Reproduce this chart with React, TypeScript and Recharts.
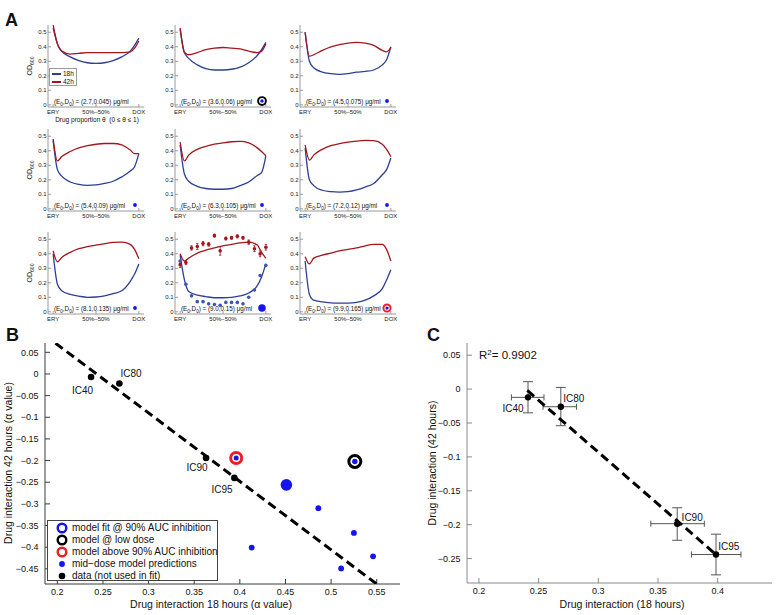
import React from 'react'
import { ComposedChart, ErrorBar, Line, Scatter, XAxis, YAxis } from 'recharts'

const FONT = '"Liberation Sans", Arial, Helvetica, sans-serif'
const LINE_BLUE = '#2c3f94'
const LINE_RED = '#a4161d'
const DOT_BLUE = '#1414ee'
const RING_RED = '#ee1c24'

// ---------- panel A: OD600 across drug proportions ----------
const thetas = [0, 0.05, 0.1, 0.2, 0.3, 0.4, 0.5, 0.6, 0.7, 0.8, 0.9, 0.95, 1]
const thetaTicks = [0, 0.5, 1]
const thetaTickLabels = ['ERY', '50%–50%', 'DOX']
const odTicks = [0, 0.1, 0.2, 0.3, 0.4, 0.5]
const doseLabels = ['2.7,0.045', '3.6,0.06', '4.5,0.075', '5.4,0.09', '6.3,0.105', '7.2,0.12', '8.1,0.135', '9.0,0.15', '9.9,0.165']
const doseMarkers = ['none', 'low', 'mid', 'mid', 'mid', 'mid', 'mid', 'fit', 'above']

const od18h = [
  [0.53, 0.42, 0.37, 0.33, 0.305, 0.29, 0.285, 0.29, 0.305, 0.33, 0.37, 0.41, 0.46],
  [0.52, 0.36, 0.32, 0.275, 0.25, 0.24, 0.24, 0.245, 0.26, 0.29, 0.34, 0.38, 0.43],
  [0.5, 0.3, 0.255, 0.225, 0.215, 0.21, 0.215, 0.225, 0.23, 0.24, 0.275, 0.31, 0.4],
  [0.47, 0.27, 0.225, 0.185, 0.168, 0.162, 0.165, 0.175, 0.19, 0.22, 0.26, 0.29, 0.38],
  [0.44, 0.24, 0.19, 0.155, 0.14, 0.135, 0.135, 0.14, 0.16, 0.185, 0.23, 0.25, 0.365],
  [0.42, 0.2, 0.16, 0.128, 0.118, 0.115, 0.118, 0.13, 0.15, 0.175, 0.235, 0.27, 0.35],
  [0.4, 0.19, 0.145, 0.12, 0.108, 0.1, 0.102, 0.11, 0.125, 0.145, 0.21, 0.26, 0.33],
  [0.39, 0.22, 0.14, 0.115, 0.105, 0.097, 0.097, 0.1, 0.11, 0.13, 0.18, 0.24, 0.33],
  [0.35, 0.12, 0.08, 0.068, 0.062, 0.06, 0.06, 0.065, 0.08, 0.11, 0.16, 0.22, 0.29],
]
const od42h = [
  [0.55, 0.42, 0.37, 0.35, 0.355, 0.36, 0.36, 0.36, 0.36, 0.36, 0.365, 0.39, 0.44],
  [0.53, 0.36, 0.345, 0.36, 0.38, 0.39, 0.395, 0.39, 0.385, 0.37, 0.36, 0.37, 0.42],
  [0.5, 0.335, 0.345, 0.375, 0.4, 0.415, 0.425, 0.43, 0.425, 0.41, 0.375, 0.365, 0.395],
  [0.48, 0.33, 0.36, 0.395, 0.42, 0.435, 0.445, 0.45, 0.45, 0.44, 0.405, 0.38, 0.38],
  [0.46, 0.33, 0.37, 0.41, 0.43, 0.445, 0.455, 0.462, 0.465, 0.455, 0.42, 0.395, 0.365],
  [0.44, 0.335, 0.37, 0.41, 0.435, 0.45, 0.46, 0.467, 0.472, 0.47, 0.445, 0.41, 0.36],
  [0.42, 0.345, 0.375, 0.41, 0.435, 0.45, 0.46, 0.47, 0.478, 0.48, 0.465, 0.43, 0.365],
  [0.4, 0.35, 0.37, 0.405, 0.425, 0.44, 0.455, 0.465, 0.475, 0.48, 0.46, 0.41, 0.37],
  [0.38, 0.33, 0.37, 0.39, 0.405, 0.42, 0.43, 0.44, 0.455, 0.465, 0.465, 0.43, 0.35],
]

// measured OD in the (9.0, 0.15) panel
const measuredTheta = [0, 0.067, 0.133, 0.2, 0.267, 0.333, 0.4, 0.467, 0.533, 0.6, 0.667, 0.733, 0.8, 0.867, 0.933, 1]
const measured42h = [0.325, 0.34, 0.44, 0.45, 0.47, 0.465, 0.525, 0.42, 0.505, 0.51, 0.52, 0.51, 0.48, 0.435, 0.4, 0.445]
const measured42hErr = [0.02, 0.015, 0.015, 0.02, 0.015, 0.012, 0.01, 0.03, 0.01, 0.01, 0.01, 0.01, 0.015, 0.02, 0.02, 0.02]
const measured18h = [0.35, 0.19, 0.11, 0.07, 0.07, 0.055, 0.05, 0.045, 0.065, 0.065, 0.065, 0.055, 0.1, 0.15, 0.25, 0.32]

// ---------- panel B ----------
const icNames = ['IC40', 'IC80', 'IC90', 'IC95']
const bDataX = [0.237, 0.268, 0.363, 0.394]
const bDataY = [-0.007, -0.022, -0.194, -0.24]
const bMidX = [0.486, 0.525, 0.413, 0.546, 0.511]
const bMidY = [-0.31, -0.367, -0.401, -0.421, -0.449]
const bFit = { x: 0.451, y: -0.256 }
const bLow = { x: 0.526, y: -0.202 }
const bAbove = { x: 0.396, y: -0.194 }
const bTrendX = [0.198, 0.55]
const bTrendY = [0.071, -0.485]
const bXTicks = [0.2, 0.25, 0.3, 0.35, 0.4, 0.45, 0.5, 0.55]
const bYTicks = [0.05, 0, -0.05, -0.1, -0.15, -0.2, -0.25, -0.3, -0.35, -0.4, -0.45]
const bLegend = [
  { kind: 'fitRing', label: 'model fit @ 90% AUC inhibition' },
  { kind: 'lowRing', label: 'model @ low dose' },
  { kind: 'aboveRing', label: 'model above 90% AUC inhibition' },
  { kind: 'mid', label: 'mid−dose model predictions' },
  { kind: 'data', label: 'data (not used in fit)' },
]

// ---------- panel C ----------
const cX = [0.2411, 0.2686, 0.3661, 0.3986]
const cY = [-0.0122, -0.026, -0.1985, -0.244]
const cXLo = [0.2272, 0.2537, 0.344, 0.378]
const cXHi = [0.2545, 0.2817, 0.3888, 0.4195]
const cYLo = [-0.035, -0.054, -0.223, -0.274]
const cYHi = [0.011, 0.0025, -0.175, -0.214]
const cTrendX = [0.2405, 0.3986]
const cTrendY = [-0.002, -0.244]
const cXTicks = [0.2, 0.25, 0.3, 0.35, 0.4]
const cYTicks = [0.05, 0, -0.05, -0.1, -0.15, -0.2, -0.25]
const rSquared = '0.9902'

// label offsets (dx, dy, anchor) per point
const bLabelPos: Record<string, [number, number, string]> = {
  IC40: [2, 17, 'end'],
  IC80: [1, -6, 'start'],
  IC90: [1.6, 13.4, 'end'],
  IC95: [-1.7, 15, 'end'],
}
const cLabelPos: Record<string, [number, number, string]> = {
  IC40: [-4.3, 14.3, 'end'],
  IC80: [2.3, -4.3, 'start'],
  IC90: [4.4, -3, 'start'],
  IC95: [2.3, -4.4, 'start'],
}

const fmt = (v: number) => String(v).replace('-', '\u2212')

function marker(kind: string, cx: number, cy: number, s = 1) {
  switch (kind) {
    case 'fit':
      return <circle cx={cx} cy={cy} r={5.8 * s} fill={DOT_BLUE} />
    case 'low':
      return (
        <g>
          <circle cx={cx} cy={cy} r={6 * s} fill="none" stroke="#000" strokeWidth={3 * s} />
          <circle cx={cx} cy={cy} r={2.7 * s} fill={DOT_BLUE} />
        </g>
      )
    case 'above':
      return (
        <g>
          <circle cx={cx} cy={cy} r={5.5 * s} fill="none" stroke={RING_RED} strokeWidth={3 * s} />
          <circle cx={cx} cy={cy} r={2.5 * s} fill={DOT_BLUE} />
        </g>
      )
    case 'fitRing':
      return <circle cx={cx} cy={cy} r={4.3 * s} fill="none" stroke={DOT_BLUE} strokeWidth={2.4 * s} />
    case 'lowRing':
      return <circle cx={cx} cy={cy} r={4.3 * s} fill="none" stroke="#000" strokeWidth={2.4 * s} />
    case 'aboveRing':
      return <circle cx={cx} cy={cy} r={4.3 * s} fill="none" stroke={RING_RED} strokeWidth={2.4 * s} />
    case 'mid':
      return <circle cx={cx} cy={cy} r={2.9 * s} fill={DOT_BLUE} />
    case 'data':
      return <circle cx={cx} cy={cy} r={3.3 * s} fill="#000" />
    default:
      return <g />
  }
}

// top / right axes, ticks only, to close the box like matlab does
function frameAxes(xDomain: number[], yDomain: number[], xTicks: number[], yTicks: number[], color: string, size: number) {
  return [
    <XAxis
      key="top"
      xAxisId="top"
      orientation="top"
      type="number"
      domain={xDomain}
      ticks={xTicks}
      allowDataOverflow
      height={0}
      tick={false}
      tickSize={-size}
      axisLine={{ stroke: color }}
      tickLine={{ stroke: color }}
    />,
    <YAxis
      key="right"
      yAxisId="right"
      orientation="right"
      type="number"
      domain={yDomain}
      ticks={yTicks}
      allowDataOverflow
      width={0}
      tick={false}
      tickSize={-size}
      axisLine={{ stroke: color }}
      tickLine={{ stroke: color }}
    />,
  ]
}

const aColLeft = [48, 175, 300]
const aRowTop = [25, 129, 232]
const A_X_DOMAIN = [-0.06, 1.06]
const A_Y_DOMAIN = [-0.015, 0.55]

function ODPanel({ idx }: { idx: number }) {
  const col = idx % 3
  const row = Math.floor(idx / 3)
  const L = aColLeft[col]
  const T = aRowTop[row]
  const rows = thetas.map((t, i) => ({ x: t, b: od18h[idx][i], r: od42h[idx][i] }))
  const meas42 = measuredTheta.map((t, i) => ({ x: t, y: measured42h[i], e: measured42hErr[i] }))
  const meas18 = measuredTheta.map((t, i) => ({ x: t, y: measured18h[i] }))
  const tickStyle = { fontSize: 6, fill: '#222', fontFamily: FONT }
  return (
    <>
      <div style={{ position: 'absolute', left: L - 25, top: T - 2 }}>
        <ComposedChart width={125} height={98} data={rows} margin={{ top: 2, right: 4, bottom: 2, left: 0 }}>
          <XAxis
            dataKey="x"
            type="number"
            domain={A_X_DOMAIN}
            ticks={thetaTicks}
            allowDataOverflow
            interval={0}
            height={12}
            tickSize={-3}
            tickMargin={6}
            axisLine={{ stroke: '#9a9a9a' }}
            tickLine={{ stroke: '#9a9a9a' }}
            tick={tickStyle}
            tickFormatter={(v: number) => thetaTickLabels[thetaTicks.indexOf(v)]}
          />
          <YAxis
            type="number"
            domain={A_Y_DOMAIN}
            ticks={odTicks}
            allowDataOverflow
            interval={0}
            width={25}
            tickSize={-3}
            tickMargin={4.5}
            axisLine={{ stroke: '#9a9a9a' }}
            tickLine={{ stroke: '#9a9a9a' }}
            tick={tickStyle}
          />
          {frameAxes(A_X_DOMAIN, A_Y_DOMAIN, thetaTicks, odTicks, '#9a9a9a', 3)}
          <Line dataKey="b" type="monotone" stroke={LINE_BLUE} strokeWidth={1.3} dot={false} isAnimationActive={false} />
          <Line dataKey="r" type="monotone" stroke={LINE_RED} strokeWidth={1.3} dot={false} isAnimationActive={false} />
          {idx === 7 && (
            <Scatter data={meas42} dataKey="y" fill={LINE_RED} isAnimationActive={false}
              shape={(p: any) => <circle cx={p.cx} cy={p.cy} r={1.8} fill={LINE_RED} />}>
              <ErrorBar dataKey="e" direction="y" width={1.2} stroke={LINE_RED} strokeWidth={0.8} isAnimationActive={false} />
            </Scatter>
          )}
          {idx === 7 && (
            <Scatter data={meas18} dataKey="y" fill="#3a55b5" isAnimationActive={false}
              shape={(p: any) => <circle cx={p.cx} cy={p.cy} r={1.8} fill="#3a55b5" />} />
          )}
        </ComposedChart>
      </div>
      <div style={{ position: 'absolute', left: L + 6, top: T + 73, fontSize: 6.3, lineHeight: '8px', whiteSpace: 'nowrap', color: '#111' }}>
        (E<span style={{ fontSize: 4.5, position: 'relative', top: 1.5 }}>0</span>,D
        <span style={{ fontSize: 4.5, position: 'relative', top: 1.5 }}>0</span>) = ({doseLabels[idx]}) μg/ml
      </div>
      <svg style={{ position: 'absolute', left: L + 82, top: T + 71 }} width={10} height={10}>
        {marker(doseMarkers[idx], 5, 5, 0.65)}
      </svg>
      {col === 0 && (
        <div style={{ position: 'absolute', left: 29, top: T + 41, transform: 'translate(-50%,-50%) rotate(-90deg)', fontSize: 7, whiteSpace: 'nowrap' }}>
          OD<span style={{ fontSize: 5, position: 'relative', top: 2 }}>600</span>
        </div>
      )}
      {idx === 0 && (
        <>
          <div style={{ position: 'absolute', left: L + 1, top: T + 43, width: 28, height: 18, border: '1px solid #999', background: '#fff', boxSizing: 'border-box', fontSize: 6.5 }}>
            {[['18h', LINE_BLUE], ['42h', LINE_RED]].map(([lab, c], i) => (
              <div key={lab} style={{ position: 'absolute', left: 2, top: 1 + i * 8, height: 8, display: 'flex', alignItems: 'center' }}>
                <div style={{ width: 9, height: 1.5, background: c }} />
                <span style={{ marginLeft: 2, lineHeight: '8px' }}>{lab}</span>
              </div>
            ))}
          </div>
          <div style={{ position: 'absolute', left: 97, top: 115.5, transform: 'translateX(-50%)', fontSize: 6.5, lineHeight: '7px', whiteSpace: 'pre' }}>
            Drug proportion θ  (0 ≤ θ ≤ 1)
          </div>
        </>
      )}
    </>
  )
}

const B_X_DOMAIN = [0.1865, 0.5755]
const B_Y_DOMAIN = [-0.485, 0.0715]
const C_X_DOMAIN = [0.19, 0.4455]
const C_Y_DOMAIN = [-0.286, 0.068]

function PanelB() {
  const trend = bTrendX.map((x, i) => ({ x, y: bTrendY[i] }))
  const data = icNames.map((name, i) => ({ x: bDataX[i], y: bDataY[i], name }))
  const mid = bMidX.map((x, i) => ({ x, y: bMidY[i] }))
  const frame = '#3a3a3a'
  const tickStyle = { fontSize: 9, fill: '#111', fontFamily: FONT }
  return (
    <div style={{ position: 'absolute', left: 0, top: 330 }}>
      <ComposedChart width={410} height={285} margin={{ top: 13, right: 10, bottom: 11, left: 5 }}>
        <XAxis dataKey="x" type="number" domain={B_X_DOMAIN} ticks={bXTicks} allowDataOverflow interval={0}
          height={20} tickSize={-5} tickMargin={10} axisLine={{ stroke: frame }} tickLine={{ stroke: frame }} tick={tickStyle} tickFormatter={fmt} />
        <YAxis type="number" domain={B_Y_DOMAIN} ticks={bYTicks} allowDataOverflow interval={0}
          width={40} tickSize={-5} tickMargin={11.5} axisLine={{ stroke: frame }} tickLine={{ stroke: frame }} tick={tickStyle} tickFormatter={fmt} />
        {frameAxes(B_X_DOMAIN, B_Y_DOMAIN, bXTicks, bYTicks, frame, 5)}
        <Scatter data={trend} dataKey="y" fill="#000" isAnimationActive={false}
          line={{ stroke: '#000', strokeWidth: 3, strokeDasharray: '9 5' }} shape={() => <g />} />
        <Scatter data={mid} dataKey="y" fill={DOT_BLUE} isAnimationActive={false} shape={(p: any) => marker('mid', p.cx, p.cy)} />
        <Scatter data={[bFit]} dataKey="y" fill={DOT_BLUE} isAnimationActive={false} shape={(p: any) => marker('fit', p.cx, p.cy)} />
        <Scatter data={[bLow]} dataKey="y" fill="#000" isAnimationActive={false} shape={(p: any) => marker('low', p.cx, p.cy)} />
        <Scatter data={[bAbove]} dataKey="y" fill={RING_RED} isAnimationActive={false} shape={(p: any) => marker('above', p.cx, p.cy)} />
        <Scatter data={data} dataKey="y" fill="#000" isAnimationActive={false}
          shape={(p: any) => {
            const [dx, dy, anchor] = bLabelPos[p.payload.name]
            return (
              <g>
                {marker('data', p.cx, p.cy)}
                <text x={p.cx + dx} y={p.cy + dy} textAnchor={anchor as any} fontSize={10} fontFamily={FONT} fill="#111">
                  {p.payload.name}
                </text>
              </g>
            )
          }} />
      </ComposedChart>
    </div>
  )
}

function PanelC() {
  const trend = cTrendX.map((x, i) => ({ x, y: cTrendY[i] }))
  const data = icNames.map((name, i) => ({
    x: cX[i],
    y: cY[i],
    name,
    ex: [cX[i] - cXLo[i], cXHi[i] - cX[i]],
    ey: [cY[i] - cYLo[i], cYHi[i] - cY[i]],
  }))
  const frame = '#8a8a8a'
  const tickStyle = { fontSize: 9, fill: '#111', fontFamily: FONT }
  return (
    <div style={{ position: 'absolute', left: 420, top: 330 }}>
      <ComposedChart width={361} height={285} margin={{ top: 13, right: 9, bottom: 12, left: 7 }}>
        <XAxis dataKey="x" type="number" domain={C_X_DOMAIN} ticks={cXTicks} allowDataOverflow interval={0}
          height={20} tickSize={-5} tickMargin={10} axisLine={{ stroke: frame }} tickLine={{ stroke: frame }} tick={tickStyle} tickFormatter={fmt} />
        <YAxis type="number" domain={C_Y_DOMAIN} ticks={cYTicks} allowDataOverflow interval={0}
          width={40} tickSize={-5} tickMargin={11.5} axisLine={{ stroke: frame }} tickLine={{ stroke: frame }} tick={tickStyle} tickFormatter={fmt} />
        {frameAxes(C_X_DOMAIN, C_Y_DOMAIN, cXTicks, cYTicks, frame, 5)}
        <Scatter data={trend} dataKey="y" fill="#000" isAnimationActive={false}
          line={{ stroke: '#000', strokeWidth: 3, strokeDasharray: '9 5' }} shape={() => <g />} />
        <Scatter data={data} dataKey="y" fill="#000" isAnimationActive={false}
          shape={(p: any) => {
            const [dx, dy, anchor] = cLabelPos[p.payload.name]
            return (
              <g>
                <circle cx={p.cx} cy={p.cy} r={3.2} fill="#000" />
                <text x={p.cx + dx} y={p.cy + dy} textAnchor={anchor as any} fontSize={10} fontFamily={FONT} fill="#111">
                  {p.payload.name}
                </text>
              </g>
            )
          }}>
          <ErrorBar dataKey="ex" direction="x" width={3} stroke="#555" strokeWidth={1} isAnimationActive={false} />
          <ErrorBar dataKey="ey" direction="y" width={5} stroke="#555" strokeWidth={1} isAnimationActive={false} />
        </Scatter>
      </ComposedChart>
    </div>
  )
}

const letter: React.CSSProperties = { position: 'absolute', fontSize: 18, fontWeight: 'bold', lineHeight: '18px' }
const axisTitle: React.CSSProperties = { position: 'absolute', fontSize: 10.5, lineHeight: '11px', whiteSpace: 'nowrap', color: '#111' }

export default function App() {
  return (
    <div style={{ position: 'absolute', left: 0, top: 0, width: 781, height: 615, background: '#fff', fontFamily: FONT, color: '#111', overflow: 'hidden' }}>
      <div style={{ ...letter, left: 5, top: 10.7 }}>A</div>
      <div style={{ ...letter, left: 6, top: 325.7 }}>B</div>
      <div style={{ ...letter, left: 427, top: 325.7 }}>C</div>

      {od18h.map((_, i) => (
        <ODPanel key={i} idx={i} />
      ))}

      <PanelB />
      <div style={{ position: 'absolute', left: 47, top: 520, width: 171, height: 61, border: '1px solid #444', background: '#fff', boxSizing: 'border-box', fontSize: 10 }}>
        {bLegend.map((it, i) => (
          <div key={it.label} style={{ position: 'absolute', left: 7, top: 1 + i * 12, height: 12, display: 'flex', alignItems: 'center', whiteSpace: 'nowrap' }}>
            <svg width={14} height={12}>{marker(it.kind, 7, 6)}</svg>
            <span style={{ marginLeft: 3, lineHeight: '12px' }}>{it.label}</span>
          </div>
        ))}
      </div>
      <div style={{ ...axisTitle, left: 211, top: 599, transform: 'translateX(-50%)' }}>Drug interaction 18 hours (α value)</div>
      <div style={{ ...axisTitle, left: 8, top: 463, transform: 'translate(-50%,-50%) rotate(-90deg)' }}>Drug interaction 42 hours  (α value)</div>

      <PanelC />
      <div style={{ position: 'absolute', left: 479, top: 348.5, fontSize: 11.5, lineHeight: '13px', whiteSpace: 'nowrap' }}>
        R<span style={{ fontSize: 8, position: 'relative', top: -4 }}>2</span>= {rSquared}
      </div>
      <div style={{ ...axisTitle, left: 622, top: 599, transform: 'translateX(-50%)' }}>Drug interaction (18 hours)</div>
      <div style={{ ...axisTitle, left: 432, top: 463, transform: 'translate(-50%,-50%) rotate(-90deg)' }}>Drug interaction (42 hours)</div>
    </div>
  )
}
